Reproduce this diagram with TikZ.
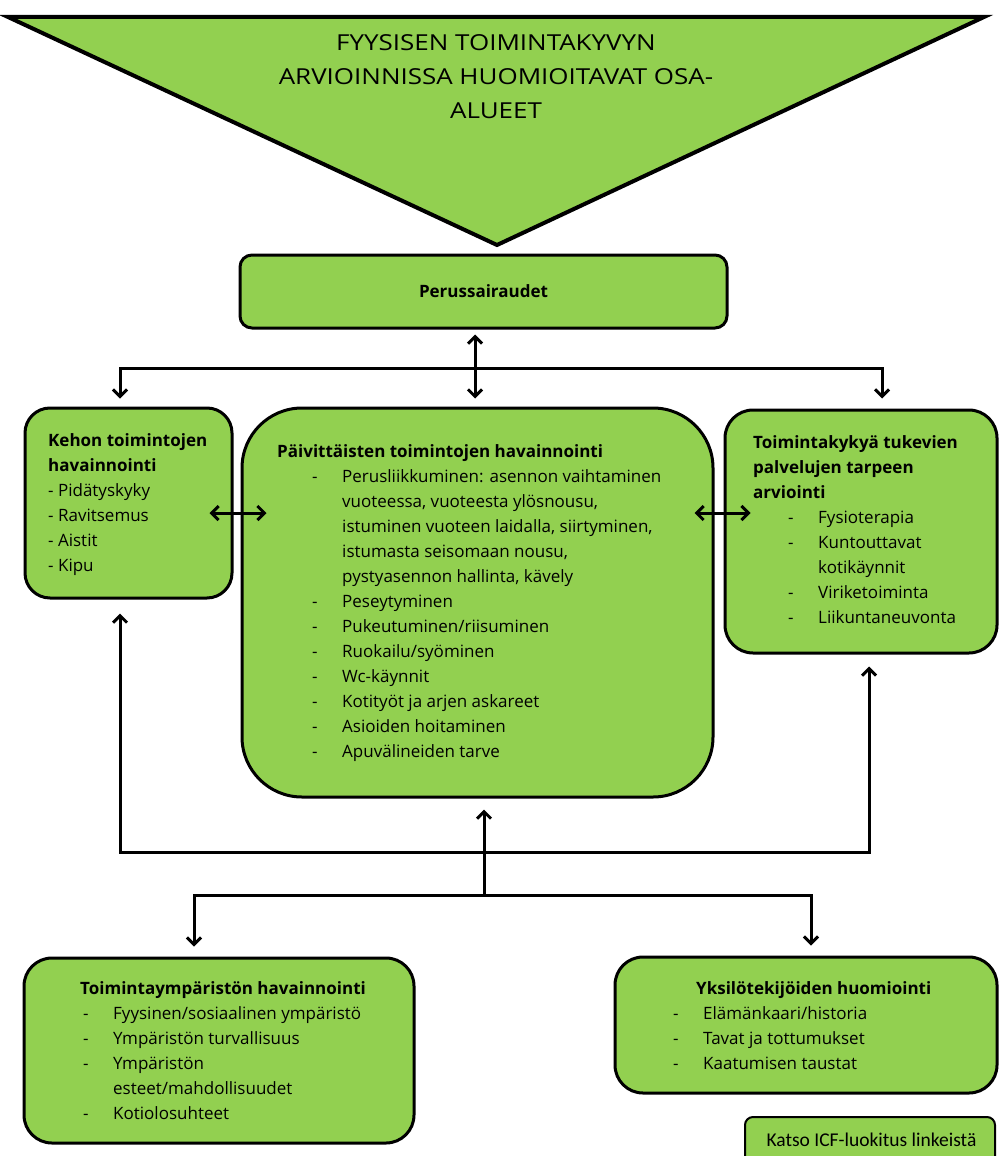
\documentclass[tikz,border=0pt]{standalone}
\usepackage{fontspec}
\setmainfont{Open Sans}
\newfontfamily\calfont{Carlito}
\newfontfamily\titlefont{Open Sans}[FakeStretch=1.18]
\usetikzlibrary{arrows.meta,calc}
\definecolor{fillgreen}{HTML}{92D050}
\newcommand\bul[3]{\hspace*{#1pt}\makebox[#2pt][l]{-}#3}
\newcommand\cnt[2]{\hspace*{#1pt}#2}
\begin{document}
\begin{tikzpicture}[x=1pt,y=-1pt,
  box/.style={draw=black,fill=fillgreen,line width=3pt,inner sep=0pt,rectangle},
  conn/.style={draw=black,line width=3pt},
  tipboth/.style={{Straight Barb[length=7pt,width=14pt]}-{Straight Barb[length=7pt,width=14pt]}},
  tipend/.style={-{Straight Barb[length=7pt,width=14pt]}},
  txt/.style={anchor=north west,inner sep=0pt,align=left,font=\fontsize{17}{25}\selectfont},
]
\useasboundingbox (0,0) rectangle (999,1156);

% title triangle
\draw[line width=4pt,fill=fillgreen,line join=miter] (8,17) -- (984,17) -- (497,245) -- cycle;
\node[anchor=north,align=center,inner sep=0pt,font=\titlefont\fontsize{22}{34}\selectfont] (title) at (496,26.2)
  {\strut FYYSISEN TOIMINTAKYVYN\\ARVIOINNISSA HUOMIOITAVAT OSA-\\ALUEET};

% boxes
\node[box,rounded corners=12pt,minimum width=487pt,minimum height=73pt,font=\fontsize{17}{25}\selectfont\bfseries] (peru) at (483.5,291.5) {Perussairaudet};
\node[box,rounded corners=25pt,minimum width=207pt,minimum height=190pt] (kehon) at (128.5,503) {};
\node[box,rounded corners=60pt,minimum width=471pt,minimum height=389pt] (paiv) at (477.5,602.5) {};
\node[box,rounded corners=28pt,minimum width=272pt,minimum height=243pt] (tuki) at (861,531.5) {};
\node[box,rounded corners=28pt,minimum width=390pt,minimum height=185pt] (toim) at (219,1050.5) {};
\node[box,rounded corners=28pt,minimum width=382pt,minimum height=136pt] (yks) at (806,1025) {};
\node[box,line width=2pt,rounded corners=8pt,minimum width=250pt,minimum height=56pt] (icf) at (870,1145) {};

% texts
\node[txt] (kehont) at (48,428.5) {\strut\textbf{Kehon toimintojen}\\\textbf{havainnointi}\\- Pidätyskyky\\- Ravitsemus\\- Aistit\\- Kipu};

\node[txt] (paivt) at (277,439.5) {\strut\textbf{Päivittäisten toimintojen havainnointi}\\
\bul{35}{30}{Perusliikkuminen: asennon vaihtaminen}\\
\cnt{65}{vuoteessa, vuoteesta ylösnousu,}\\
\cnt{65}{istuminen vuoteen laidalla, siirtyminen,}\\
\cnt{65}{istumasta seisomaan nousu,}\\
\cnt{65}{pystyasennon hallinta, kävely}\\
\bul{35}{30}{Peseytyminen}\\
\bul{35}{30}{Pukeutuminen/riisuminen}\\
\bul{35}{30}{Ruokailu/syöminen}\\
\bul{35}{30}{Wc-käynnit}\\
\bul{35}{30}{Kotityöt ja arjen askareet}\\
\bul{35}{30}{Asioiden hoitaminen}\\
\bul{35}{30}{Apuvälineiden tarve}};

\node[txt] (tukit) at (753,430.5) {\strut\textbf{Toimintakykyä tukevien}\\\textbf{palvelujen tarpeen}\\\textbf{arviointi}\\
\bul{35}{30}{Fysioterapia}\\
\bul{35}{30}{Kuntouttavat}\\
\cnt{65}{kotikäynnit}\\
\bul{35}{30}{Viriketoiminta}\\
\bul{35}{30}{Liikuntaneuvonta}};

\node[txt] (toimt) at (80,976.5) {\strut\textbf{Toimintaympäristön havainnointi}\\
\bul{3}{30}{Fyysinen/sosiaalinen ympäristö}\\
\bul{3}{30}{Ympäristön turvallisuus}\\
\bul{3}{30}{Ympäristön}\\
\cnt{33}{esteet/mahdollisuudet}\\
\bul{3}{30}{Kotiolosuhteet}};

\node[txt] (ykst) at (673,976.5) {\strut\hspace*{23pt}\textbf{Yksilötekijöiden huomiointi}\\
\bul{0}{30}{Elämänkaari/historia}\\
\bul{0}{30}{Tavat ja tottumukset}\\
\bul{0}{30}{Kaatumisen taustat}};

\node[inner sep=0pt,font=\calfont\fontsize{19.5}{22}\selectfont] (icft) at (871.5,1140) {Katso ICF-luokitus linkeistä};

% connectors
\coordinate (cM) at (475,368);
\coordinate (cL) at (120,368);
\coordinate (cR) at (882,368);
\coordinate (lrow) at (0,513);
\coordinate (bL) at (120,852);
\coordinate (bR) at (869,852);
\coordinate (bC) at (484,895);
\coordinate (dL) at (194,895);
\coordinate (dR) at (811,895);

\draw[conn,tipboth,shorten <=5pt,shorten >=8pt] (peru.south -| cM) -- (paiv.north -| cM);
\draw[conn,tipboth,shorten <=8pt,shorten >=10pt] (kehon.north -| cL) -- (cL) -- (cR) -- (tuki.north -| cR);
\draw[conn,tipboth] ([xshift=-24pt]kehon.east |- lrow) -- ([xshift=26pt]paiv.west |- lrow);
\draw[conn,tipboth] ([xshift=-20pt]paiv.east |- lrow) -- ([xshift=27pt]tuki.west |- lrow);
\draw[conn,tipboth,shorten <=14pt,shorten >=12pt] (kehon.south -| bL) -- (bL) -- (bR) -- (tuki.south -| bR);
\draw[conn,tipend,shorten >=11pt] (bC) -- (paiv.south -| bC);
\draw[conn,tipboth,shorten <=10pt,shorten >=10pt] (toim.north -| dL) -- (dL) -- (dR) -- (yks.north -| dR);
\end{tikzpicture}
\end{document}
